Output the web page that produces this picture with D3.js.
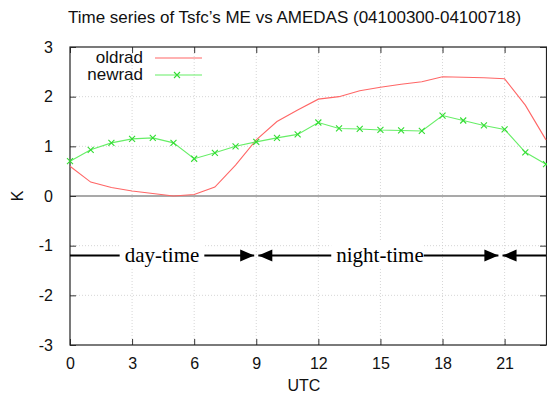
<!DOCTYPE html>
<html>
<head>
<meta charset="utf-8">
<script src="https://cdn.jsdelivr.net/npm/d3@7"></script>
<style>
  body { margin: 0; background: #fff; }
  svg text { font-family: "Liberation Sans", Arial, sans-serif; }
  .ann { font-family: "Liberation Serif", "Times New Roman", serif !important; }
</style>
</head>
<body>
<svg width="547" height="396"></svg>
<script>
const svg = d3.select('svg');

const hours = d3.range(0, 24);
const oldrad = [0.60, 0.28, 0.17, 0.10, 0.05, 0.00, 0.03, 0.18, 0.62, 1.13, 1.50, 1.73,
                1.95, 2.00, 2.12, 2.19, 2.25, 2.30, 2.40, 2.39, 2.38, 2.36, 1.83, 1.13];
const newrad = [0.70, 0.93, 1.07, 1.15, 1.17, 1.07, 0.75, 0.87, 1.00, 1.09, 1.17, 1.24,
                1.48, 1.36, 1.35, 1.33, 1.32, 1.31, 1.62, 1.52, 1.42, 1.34, 0.88, 0.64];
const xTicks = [0, 3, 6, 9, 12, 15, 18, 21];
const yTicks = [-3, -2, -1, 0, 1, 2, 3];
const periods = [
    {label: 'day-time', from: 0, to: 8.9},
    {label: 'night-time', from: 9.1, to: 20.7},
    {label: '', from: 20.9, to: 23}
];

const title = "Time series of Tsfc\u2019s ME vs AMEDAS (04100300-04100718)";

const margin = {top: 47, right: 0, bottom: 51, left: 70};
const width = 547, height = 396;
const innerWidth = width - margin.left - margin.right;
const innerHeight = height - margin.top - margin.bottom;

const xScale = d3.scaleLinear().domain([0, 23]).range([0, innerWidth - 1]);
const yScale = d3.scaleLinear().domain([-3, 3]).range([innerHeight, 0]);

const g = svg.append('g').attr('transform', `translate(${margin.left}, ${margin.top})`);

// grid
g.append('g').selectAll('line').data(xTicks.slice(1)).join('line')
    .attr('x1', d => xScale(d)).attr('x2', d => xScale(d))
    .attr('y1', 0).attr('y2', innerHeight)
    .attr('stroke', '#ccc').attr('stroke-width', 0.8).attr('stroke-dasharray', '1,2');
g.append('g').selectAll('line').data(yTicks.filter(d => d !== 0 && d !== 3 && d !== -3)).join('line')
    .attr('y1', d => yScale(d)).attr('y2', d => yScale(d))
    .attr('x1', 0).attr('x2', innerWidth)
    .attr('stroke', '#ccc').attr('stroke-width', 0.8).attr('stroke-dasharray', '1,2');

// zero line
g.append('line')
    .attr('x1', 0).attr('x2', innerWidth)
    .attr('y1', yScale(0)).attr('y2', yScale(0))
    .attr('stroke', '#555').attr('stroke-width', 1.2);

// axes
const xAxis = d3.axisBottom(xScale).tickValues(xTicks).tickSize(-6).tickPadding(13).tickFormat(d3.format('d'));
const xAxisG = g.append('g').attr('transform', `translate(0, ${innerHeight})`).call(xAxis);
const xTop = g.append('g').call(d3.axisTop(xScale).tickValues(xTicks).tickSize(-6).tickFormat(''));
const yAxis = d3.axisLeft(yScale).tickValues(yTicks).tickSize(-6).tickPadding(17).tickFormat(d3.format('d'));
const yAxisG = g.append('g').call(yAxis);
const yRight = g.append('g').attr('transform', `translate(${innerWidth - 1}, 0)`)
    .call(d3.axisRight(yScale).tickValues(yTicks).tickSize(-6).tickFormat(''));
[xAxisG, xTop, yAxisG, yRight].forEach(a => {
    a.select('.domain').remove();
    a.selectAll('line').attr('stroke', '#333');
    a.selectAll('text').attr('font-size', 16).attr('fill', '#111')
        .style('font-family', '"Liberation Sans", Arial, sans-serif');
});
xTop.selectAll('text').remove();
yRight.selectAll('text').remove();
yAxisG.selectAll('text').text(d => d < 0 ? '-' + Math.abs(d) : d);

// frame
g.append('rect').attr('x', 0).attr('y', 0)
    .attr('width', innerWidth - 0.5).attr('height', innerHeight)
    .attr('fill', 'none').attr('stroke', '#222').attr('stroke-width', 1.2);

// axis labels
g.append('text')
    .attr('transform', `translate(-53, ${yScale(0)}) rotate(-90)`)
    .attr('text-anchor', 'middle').attr('dy', '0.35em')
    .attr('font-size', 16).attr('fill', '#111').text('K');
g.append('text')
    .attr('x', xScale(11.3)).attr('y', innerHeight + 46)
    .attr('text-anchor', 'middle').attr('font-size', 16).attr('fill', '#111').text('UTC');

// title
svg.append('text')
    .attr('x', 68).attr('y', 23)
    .attr('font-size', 17).attr('fill', '#111').text(title);

// lines
const line = d3.line().x((d, i) => xScale(hours[i])).y(d => yScale(d));
const plot = g.append('g');
plot.append('path').attr('d', line(oldrad))
    .attr('fill', 'none').attr('stroke', '#ff6666').attr('stroke-width', 1.1);
plot.append('path').attr('d', line(newrad))
    .attr('fill', 'none').attr('stroke', '#66ee66').attr('stroke-width', 1.1);
const marker = 3;
plot.selectAll('path.mk').data(newrad).join('path').attr('class', 'mk')
    .attr('d', (d, i) => {
        const x = xScale(hours[i]), y = yScale(d);
        return `M${x - marker},${y - marker}L${x + marker},${y + marker}M${x - marker},${y + marker}L${x + marker},${y - marker}`;
    })
    .attr('stroke', '#33dd33').attr('stroke-width', 1.1);

// legend
const lg = g.append('g');
lg.append('text').attr('x', 73).attr('y', 16).attr('text-anchor', 'end')
    .attr('font-size', 17).attr('fill', '#111').text('oldrad');
lg.append('line').attr('x1', 85).attr('x2', 132).attr('y1', 11).attr('y2', 11)
    .attr('stroke', '#ff6666').attr('stroke-width', 1.1);
lg.append('text').attr('x', 73).attr('y', 33).attr('text-anchor', 'end')
    .attr('font-size', 17).attr('fill', '#111').text('newrad');
lg.append('line').attr('x1', 85).attr('x2', 132).attr('y1', 28).attr('y2', 28)
    .attr('stroke', '#66ee66').attr('stroke-width', 1.1);
lg.append('path')
    .attr('d', `M${107 - marker},${28 - marker}L${107 + marker},${28 + marker}M${107 - marker},${28 + marker}L${107 + marker},${28 - marker}`)
    .attr('stroke', '#33dd33').attr('stroke-width', 1.1);

// period annotation
const ay = yScale(-1.2);
const ann = g.append('g');
const arrowHead = (tip, dir) => {
    const x = xScale(tip);
    return `M${x},${ay}L${x - dir * 14},${ay - 6}L${x - dir * 14},${ay + 6}Z`;
};
periods.forEach((p, i) => {
    const x0 = xScale(p.from), x1 = xScale(p.to);
    ann.append('line').attr('x1', x0).attr('x2', x1).attr('y1', ay).attr('y2', ay)
        .attr('stroke', '#000').attr('stroke-width', 2);
    if (i > 0) ann.append('path').attr('d', arrowHead(p.from, -1)).attr('fill', '#000');
    if (i < periods.length - 1) ann.append('path').attr('d', arrowHead(p.to, 1)).attr('fill', '#000');
    if (p.label) {
        const cx = i === 0 ? 92 : 310;
        const t = ann.append('text').attr('class', 'ann')
            .attr('x', cx).attr('y', ay + 6)
            .attr('text-anchor', 'middle').attr('font-size', 21).attr('fill', '#000')
            .text(p.label);
        const bb = t.node().getBBox();
        ann.insert('rect', () => t.node())
            .attr('x', bb.x - 5).attr('y', bb.y - 2)
            .attr('width', bb.width + (i === 0 ? 10 : 5)).attr('height', bb.height + 4)
            .attr('fill', '#fff');
    }
});
</script>
</body>
</html>
